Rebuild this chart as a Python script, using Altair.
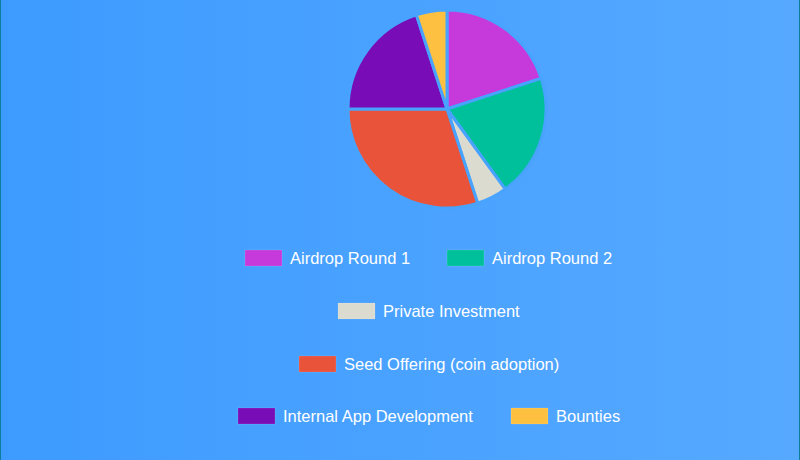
import altair as alt
import pandas as pd

# Data
categories = ["Airdrop Round 1", "Airdrop Round 2", "Private Investment",
              "Seed Offering (coin adoption)", "Internal App Development", "Bounties"]
shares = [20, 20, 5, 30, 20, 5]
colors = ["#c63adb", "#00bf9b", "#dcdbd0", "#e8533a", "#780cb6", "#fdc040"]

# Legend layout (row y per item, box left x) - layout only
legend_row_y = [258, 258, 311, 364, 416, 416]
legend_box_x = [245, 447, 338, 299, 238, 511]

W, H = 800, 460
BOX_W, BOX_H = 37, 16

df = pd.DataFrame({"cat": categories, "share": shares, "order": range(len(categories))})
leg = pd.DataFrame({
    "cat": categories,
    "bx": legend_box_x,
    "bx2": [x + BOX_W for x in legend_box_x],
    "tx": [x + BOX_W + 8 for x in legend_box_x],
    "y": [y - BOX_H / 2 for y in legend_row_y],
    "y2": [y + BOX_H / 2 for y in legend_row_y],
    "ty": [y + 0.5 for y in legend_row_y],
})

color_scale = alt.Scale(domain=categories, range=colors)
ident_x = alt.Scale(domain=[0, W], range=[0, W])
ident_y = alt.Scale(domain=[0, H], range=[0, H])

bg = alt.Chart(pd.DataFrame({"a": [0]})).mark_rect(
    fill=alt.Gradient(gradient="linear", x1=0, x2=1, y1=0, y2=0,
                      stops=[alt.GradientStop(color="#3d9bff", offset=0),
                             alt.GradientStop(color="#56a9ff", offset=1)])
).encode(x=alt.value(0), x2=alt.value(W), y=alt.value(0), y2=alt.value(H))

edges = alt.Chart(pd.DataFrame({"a": [0]})).mark_rect(fill="#0b7d9c").encode(
    x=alt.value(0), x2=alt.value(1), y=alt.value(0), y2=alt.value(H))
edges_r = alt.Chart(pd.DataFrame({"a": [0]})).mark_rect(fill="#0b7d9c").encode(
    x=alt.value(W - 1), x2=alt.value(W), y=alt.value(0), y2=alt.value(H))

pie = alt.Chart(df).mark_arc(radius=99, stroke="#48a3ff", strokeWidth=3).encode(
    theta=alt.Theta("share:Q", stack=True),
    order=alt.Order("order:Q"),
    color=alt.Color("cat:N", scale=color_scale, legend=None),
    x=alt.value(447), y=alt.value(109),
)

leg_box = alt.Chart(leg).mark_rect(stroke="#ffffff", strokeOpacity=0.25, strokeWidth=0.5).encode(
    x=alt.X("bx:Q", scale=ident_x, axis=None),
    x2="bx2:Q",
    y=alt.Y("y:Q", scale=ident_y, axis=None),
    y2="y2:Q",
    color=alt.Color("cat:N", scale=color_scale, legend=None),
)

leg_text = alt.Chart(leg).mark_text(
    align="left", baseline="middle", fontSize=16.5, font="Liberation Sans", color="#ffffff"
).encode(
    x=alt.X("tx:Q", scale=ident_x, axis=None),
    y=alt.Y("ty:Q", scale=ident_y, axis=None),
    text="cat:N",
)

chart = alt.layer(bg, edges, edges_r, pie, leg_box, leg_text).resolve_scale(
    color="shared"
).properties(
    width=W, height=H, padding=0, autosize=alt.AutoSizeParams(type="none")
).configure_view(stroke=None)

chart.save("out.html", embed_options={"renderer": "svg", "actions": False})
